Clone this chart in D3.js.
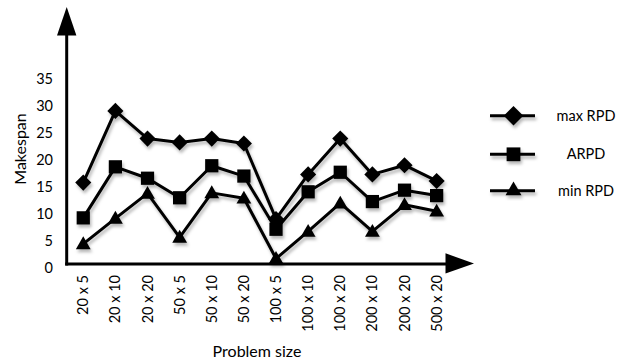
<!DOCTYPE html>
<html>
<head>
<meta charset="utf-8">
<script src="https://cdn.jsdelivr.net/npm/d3@7/dist/d3.min.js"></script>
<style>
  html, body { margin: 0; padding: 0; background: #fff; }
  svg { display: block; font-family: Lato, "Open Sans", sans-serif; }
</style>
</head>
<body>
<svg id="chart" width="626" height="362"></svg>
<script>
const categories = ["20 x 5","20 x 10","20 x 20","50 x 5","50 x 10","50 x 20","100 x 5","100 x 10","100 x 20","200 x 10","200 x 20","500 x 20"];
const maxRPD = [15.0, 28.2, 23.1, 22.4, 23.1, 22.2, 8.3, 16.5, 23.1, 16.5, 18.2, 15.3];
const ARPD   = [8.5, 17.9, 15.8, 12.2, 18.1, 16.2, 6.4, 13.3, 16.9, 11.5, 13.6, 12.6];
const minRPD = [3.7, 8.4, 13.0, 4.9, 13.1, 12.1, 1.0, 6.0, 11.2, 6.0, 10.9, 9.7];
const yTicks = [0, 5, 10, 15, 20, 25, 30, 35];
const seriesNames = ["max RPD", "ARPD", "min RPD"];

const svg = d3.select("#chart");

// filters
const defs = svg.append("defs");
const f = defs.append("filter").attr("id", "shadow").attr("x", "-20%").attr("y", "-20%").attr("width", "140%").attr("height", "160%");
f.append("feDropShadow").attr("dx", 1.5).attr("dy", 3).attr("stdDeviation", 1.8)
  .attr("flood-color", "#000").attr("flood-opacity", 0.28);
const g2 = defs.append("filter").attr("id", "gshadow").attr("x", "-5%").attr("y", "-200%").attr("width", "110%").attr("height", "500%");
g2.append("feDropShadow").attr("dx", 0).attr("dy", 1.5).attr("stdDeviation", 1.2)
  .attr("flood-color", "#000").attr("flood-opacity", 0.15);

const x = d3.scaleBand().domain(categories).range([67.2, 452.7]).padding(0);
const y = d3.scaleLinear().domain([0, 35]).range([264, 74]);
const yLab = d3.scaleLinear().domain([0, 35]).range([267.5, 79]);
const cx = d => x(d) + x.bandwidth() / 2;

// gridlines
svg.append("g").selectAll("line").data(yTicks.filter(t => t > 0)).join("line")
  .attr("x1", 67).attr("x2", 452.5)
  .attr("y1", d => y(d)).attr("y2", d => y(d))
  .attr("stroke", "#c3c3c3").attr("stroke-width", 2.4)
  .attr("filter", "url(#gshadow)");

// y tick labels
svg.append("g").selectAll("text").data(yTicks).join("text")
  .attr("x", 53).attr("y", d => yLab(d)).attr("dy", "0.35em")
  .attr("text-anchor", "end").attr("font-size", 14.5).attr("fill", "#000")
  .text(d => d);

// x tick labels
svg.append("g").selectAll("text").data(categories).join("text")
  .attr("transform", d => `translate(${cx(d)},275) rotate(-90)`)
  .attr("dy", "0.35em").attr("text-anchor", "end")
  .attr("font-size", 14.5).attr("fill", "#000")
  .text(d => d);

// axes with arrows
svg.append("line").attr("x1", 66.7).attr("x2", 66.7).attr("y1", 265.5).attr("y2", 34)
  .attr("stroke", "#000").attr("stroke-width", 3);
svg.append("path").attr("d", "M66.7,7 L57,35.5 L76.4,35.5 Z").attr("fill", "#000");
svg.append("line").attr("x1", 65.2).attr("x2", 447).attr("y1", 264).attr("y2", 264)
  .attr("stroke", "#000").attr("stroke-width", 3);
svg.append("path").attr("d", "M474,263.5 L445.5,253.3 L445.5,273.5 Z").attr("fill", "#000");

// axis titles
svg.append("text").attr("transform", "translate(20,149) rotate(-90)")
  .attr("dy", "0.35em").attr("text-anchor", "middle").attr("font-size", 16)
  .text("Makespan");
svg.append("text").attr("x", 257).attr("y", 351).attr("dy", "0.35em")
  .attr("text-anchor", "middle").attr("font-size", 16).text("Problem size");

// series markers: diamond = rotated square
const markers = [
  { sym: d3.symbol().type(d3.symbolSquare).size(130), rot: 45, legSym: d3.symbol().type(d3.symbolSquare).size(190) },
  { sym: d3.symbol().type(d3.symbolSquare).size(175), rot: 0, legSym: d3.symbol().type(d3.symbolSquare).size(190) },
  { sym: d3.symbol().type(d3.symbolTriangle).size(95), rot: 0, legSym: d3.symbol().type(d3.symbolTriangle).size(110) }
];
const allSeries = [maxRPD, ARPD, minRPD];
const line = d3.line().x((d, i) => cx(categories[i])).y(d => y(d));

const plot = svg.append("g").attr("filter", "url(#shadow)");
allSeries.forEach((vals, si) => {
  const g = plot.append("g");
  g.append("path").datum(vals).attr("d", line)
    .attr("fill", "none").attr("stroke", "#000").attr("stroke-width", 3)
    .attr("stroke-linejoin", "round");
  g.selectAll("path.m").data(vals).join("path").attr("class", "m")
    .attr("transform", (d, i) => `translate(${cx(categories[i])},${y(d) + (si === 2 ? 1 : 0)}) rotate(${markers[si].rot})`)
    .attr("d", markers[si].sym()).attr("fill", "#000");
});

// legend
const legY = [115.7, 154.3, 190.7];
const leg = svg.append("g");
seriesNames.forEach((name, si) => {
  const gl = leg.append("g").attr("filter", "url(#shadow)");
  gl.append("line").attr("x1", 490).attr("x2", 535).attr("y1", legY[si]).attr("y2", legY[si])
    .attr("stroke", "#000").attr("stroke-width", 3);
  gl.append("path").attr("transform", `translate(513.5,${legY[si]}) rotate(${markers[si].rot})`)
    .attr("d", markers[si].legSym()).attr("fill", "#000");
  leg.append("text").attr("x", 586).attr("y", legY[si]).attr("dy", "0.35em")
    .attr("text-anchor", "middle").attr("font-size", 14.5).text(name);
});
</script>
</body>
</html>
